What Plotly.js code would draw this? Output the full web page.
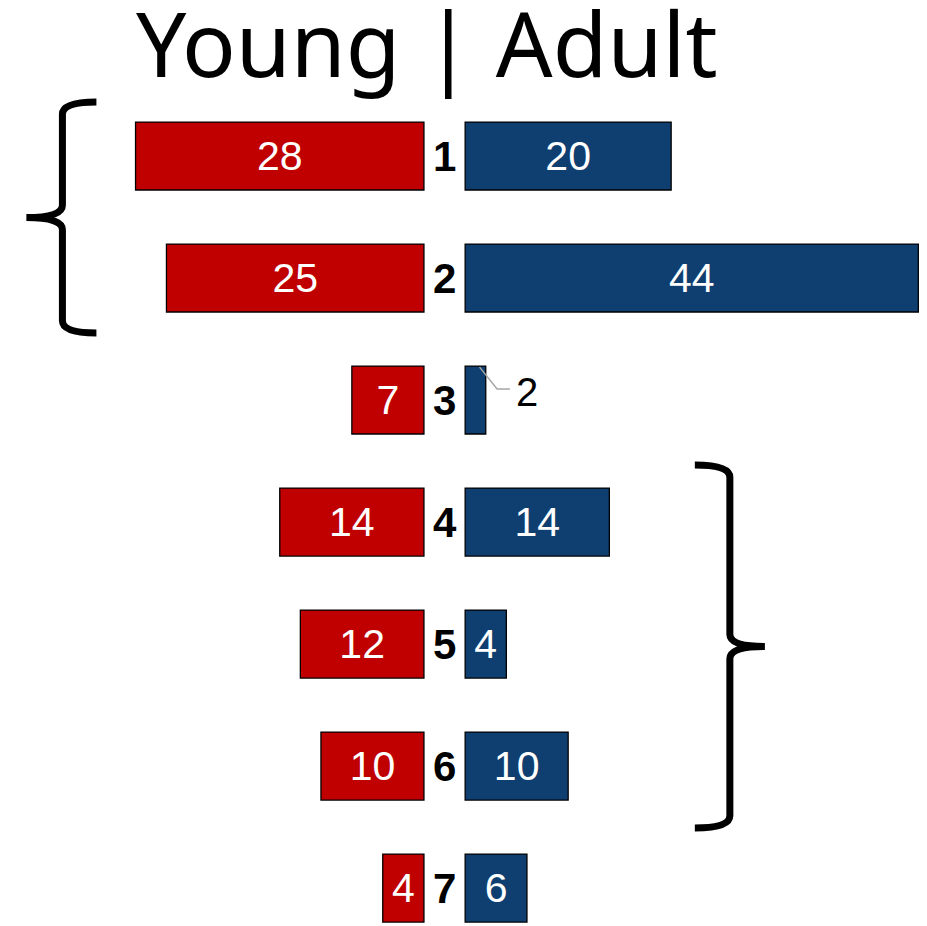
<!DOCTYPE html>
<html>
<head>
<meta charset="utf-8">
<script src="https://cdn.plot.ly/plotly-3.0.1.min.js"></script>
<style>html,body{margin:0;padding:0;background:#fff}#chart{width:927px;height:926px}</style>
</head>
<body>
<div id="chart"></div>
<script>
const categories = ['1','2','3','4','5','6','7'];
const young = [28, 25, 7, 14, 12, 10, 4];
const adult = [20, 44, 2, 14, 4, 10, 6];
const titleText = 'Young | Adult';
// label of the tiny bar is drawn outside with a callout
const calloutIndex = 2;

const GAP = 2;
const pos = categories.map((c, i) => i + 1);
const RED = '#C00000';
const BLUE = '#0F3F71';
const FONT = 'Liberation Sans, Arial, sans-serif';

const young_trace = {
  type: 'bar', orientation: 'h',
  y: pos, x: young.map(v => -v), base: young.map(() => -GAP),
  width: 0.557,
  text: young.map(String),
  textposition: 'inside', insidetextanchor: 'middle',
  constraintext: 'none',
  textfont: {family: FONT, size: 41, color: '#ffffff'},
  marker: {color: RED, line: {color: '#000', width: 1.3}},
  hoverinfo: 'skip'
};
const adult_trace = {
  type: 'bar', orientation: 'h',
  y: pos, x: adult, base: adult.map(() => GAP),
  width: 0.557,
  text: adult.map((v, i) => i === calloutIndex ? '' : String(v)),
  textposition: 'inside', insidetextanchor: 'middle',
  constraintext: 'none',
  textfont: {family: FONT, size: 41, color: '#ffffff'},
  marker: {color: BLUE, line: {color: '#000', width: 1.3}},
  hoverinfo: 'skip'
};

const annotations = categories.map((c, i) => ({
  x: 0, y: pos[i], xref: 'x', yref: 'y', text: '<b>' + c + '</b>',
  showarrow: false, xanchor: 'center', yanchor: 'middle',
  font: {family: FONT, size: 42, color: '#000'}
}));
annotations.push({
  x: 427/927, y: 1 - 42/926, xref: 'paper', yref: 'paper', text: titleText,
  showarrow: false, xanchor: 'center', yanchor: 'middle',
  font: {family: 'Noto Sans, DejaVu Sans, sans-serif', size: 89, color: '#000'}
});
// callout label for the small adult bar
const cEnd = GAP + adult[calloutIndex];
const cy = pos[calloutIndex];
annotations.push({
  x: cEnd + 2.7, y: cy - 0.066, xref: 'x', yref: 'y', text: String(adult[calloutIndex]),
  showarrow: false, xanchor: 'left', yanchor: 'middle',
  font: {family: FONT, size: 40, color: '#000'}
});

function brace(xArm, xStem, xTip, y0, y1, ym) {
  const r = 0.1; // vertical curl in y units
  return `M ${xArm} ${y0} Q ${xStem} ${y0} ${xStem} ${y0 + r} L ${xStem} ${ym - r} Q ${xStem} ${ym} ${xTip} ${ym} Q ${xStem} ${ym} ${xStem} ${ym + r} L ${xStem} ${y1 - r} Q ${xStem} ${y1} ${xArm} ${y1}`;
}

const shapes = [
  {type: 'path', xref: 'x', yref: 'y', path: brace(-33.8, -37.1, -40.6, 0.557, 2.451, 1.504),
   line: {color: '#000', width: 7}},
  {type: 'path', xref: 'x', yref: 'y', path: brace(24.3, 27.7, 31.1, 3.533, 6.508, 5.02),
   line: {color: '#000', width: 7}},
  {type: 'path', xref: 'x', yref: 'y',
   path: `M ${cEnd - 0.6} ${cy - 0.27} L ${cEnd + 1.1} ${cy - 0.09} L ${cEnd + 2.35} ${cy - 0.09}`,
   line: {color: '#A6A6A6', width: 1.5}}
];

const layout = {
  width: 927, height: 926,
  margin: {l: 0, r: 0, t: 0, b: 0},
  paper_bgcolor: '#fff', plot_bgcolor: '#fff',
  showlegend: false, hovermode: false,
  barmode: 'overlay',
  xaxis: {range: [-43.16, 46.84], visible: false, fixedrange: true},
  yaxis: {range: [7.311, -0.279], visible: false, fixedrange: true},
  annotations: annotations,
  shapes: shapes
};

Plotly.newPlot('chart', [young_trace, adult_trace], layout, {displayModeBar: false, staticPlot: true});
</script>
</body>
</html>
